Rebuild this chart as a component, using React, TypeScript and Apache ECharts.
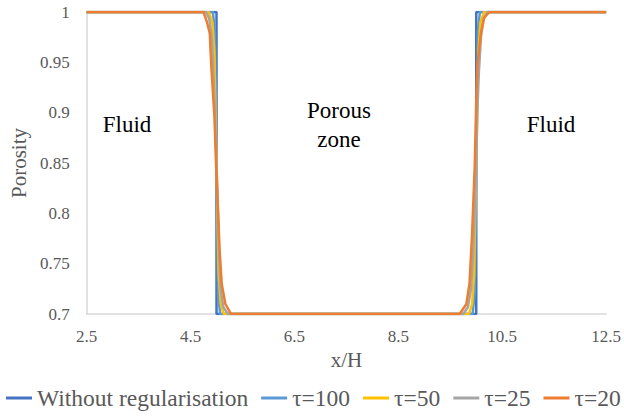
import React, { useEffect, useRef } from "react";
import * as echarts from "echarts";

const seriesNames = ["Without regularisation", "τ=100", "τ=50", "τ=25", "τ=20"];
const seriesColors = ["#4472C4", "#5B9BD5", "#FFC000", "#A5A5A5", "#ED7D31"];

const noRegX = [2.5, 5, 5, 10, 10, 12.5];
const noRegY = [1, 1, 0.7, 0.7, 1, 1];

const tau100X = [2.5, 4.93, 4.97, 4.99, 5.0, 5.01, 5.03, 5.07, 9.93, 9.97, 9.99, 10.0, 10.01, 10.03, 10.07, 12.5];
const tau100Y = [1, 1, 0.98, 0.9, 0.85, 0.8, 0.72, 0.7, 0.7, 0.72, 0.8, 0.85, 0.9, 0.98, 1, 1];

const tau50X = [2.5, 4.85, 4.92, 4.96, 4.98, 5.0, 5.02, 5.04, 5.08, 5.14, 9.86, 9.92, 9.96, 9.98, 10.0, 10.02, 10.04, 10.08, 10.15, 12.5];
const tau50Y = [1, 1, 0.99, 0.96, 0.9, 0.85, 0.8, 0.74, 0.71, 0.7, 0.7, 0.71, 0.74, 0.8, 0.85, 0.9, 0.96, 0.99, 1, 1];

const tau25X = [2.5, 4.8, 4.86, 4.91, 4.94, 4.97, 5.0, 5.03, 5.05, 5.08, 5.13, 5.22, 9.75, 9.84, 9.9, 9.94, 9.97, 10.0, 10.02, 10.05, 10.09, 10.14, 10.21, 12.5];
const tau25Y = [1, 1, 0.993, 0.975, 0.94, 0.9, 0.85, 0.8, 0.76, 0.725, 0.707, 0.7, 0.7, 0.707, 0.725, 0.76, 0.8, 0.85, 0.9, 0.94, 0.975, 0.993, 1, 1];

const tau20X = [2.5, 4.75, 4.81, 4.87, 4.9, 4.96, 4.99, 5.02, 5.06, 5.1, 5.17, 5.28, 9.68, 9.81, 9.87, 9.92, 9.97, 10.0, 10.02, 10.09, 10.15, 10.25, 12.5];
const tau20Y = [1, 1, 0.991, 0.979, 0.946, 0.896, 0.85, 0.813, 0.763, 0.73, 0.71, 0.7, 0.7, 0.71, 0.73, 0.78, 0.846, 0.912, 0.946, 0.979, 0.994, 1, 1];

const seriesX = [noRegX, tau100X, tau50X, tau25X, tau20X];
const seriesY = [noRegY, tau100Y, tau50Y, tau25Y, tau20Y];

const xTickLabels = [2.5, 4.5, 6.5, 8.5, 10.5, 12.5];

const SERIF = "Liberation Serif, Times New Roman, serif";
const WARM_SIZES = [17, 21, 23, 23.5];

export default function App() {
  const ref = useRef<HTMLDivElement>(null);

  useEffect(() => {
    if (!ref.current) return;
    const chart = echarts.init(ref.current, null, { renderer: "svg" });

    const series = seriesNames.map((name, i) => ({
      name,
      type: "line",
      data: seriesX[i].map((x, j) => [x, seriesY[i][j]]),
      showSymbol: false,
      symbol: "none",
      lineStyle: { color: seriesColors[i], width: 2.5 },
      itemStyle: { color: seriesColors[i] },
      z: 2 + i,
    }));

    const annoStyle = (text: string) => ({
      text,
      fill: "#000",
      fontFamily: SERIF,
      fontSize: 23,
      textAlign: "center",
      textVerticalAlign: "middle",
    });

    chart.setOption({
      animation: false,
      backgroundColor: "#ffffff",
      textStyle: { fontFamily: SERIF },
      grid: { left: 81, right: 15, top: 12, bottom: 103 },
      xAxis: {
        type: "value",
        min: 2.5,
        max: 12.5,
        interval: 0.5,
        name: "x/H",
        nameLocation: "middle",
        nameGap: 18,
        nameTextStyle: { fontFamily: SERIF, fontSize: 21, color: "#595959" },
        axisLine: { show: true, lineStyle: { color: "#D9D9D9", width: 1.5 } },
        axisTick: { show: false },
        splitLine: { show: false },
        axisLabel: {
          fontFamily: SERIF,
          fontSize: 17,
          color: "#595959",
          margin: 14,
          showMinLabel: true,
          showMaxLabel: true,
          formatter: (v: number) => {
            const hit = xTickLabels.find((t) => Math.abs(t - v) < 1e-6);
            return hit !== undefined ? String(hit) : "";
          },
        },
      },
      yAxis: {
        type: "value",
        min: 0.7,
        max: 1,
        interval: 0.05,
        name: "Porosity",
        nameLocation: "middle",
        nameGap: 52,
        nameTextStyle: { fontFamily: SERIF, fontSize: 21, color: "#595959" },
        axisLine: { show: true, lineStyle: { color: "#D9D9D9", width: 1.5 } },
        axisTick: { show: false },
        splitLine: { show: false },
        axisLabel: {
          fontFamily: SERIF,
          fontSize: 17,
          color: "#595959",
          margin: 17,
        },
      },
      legend: {
        data: seriesNames,
        left: 6,
        top: 386,
        width: 1000,
        padding: 0,
        itemGap: 13,
        itemWidth: 26,
        itemHeight: 3,
        icon: "rect",
        textStyle: { fontFamily: SERIF, fontSize: 23.5, color: "#595959" },
      },
      graphic: [
        { type: "text", x: 127, y: 124, style: annoStyle("Fluid") },
        { type: "text", x: 339, y: 110, style: annoStyle("Porous") },
        { type: "text", x: 339, y: 139, style: annoStyle("zone") },
        { type: "text", x: 551, y: 124, style: annoStyle("Fluid") },
      ],
      series,
    });

    return () => chart.dispose();
  }, []);

  return (
    <>
      <div
        aria-hidden="true"
        style={{ position: "absolute", left: 0, top: 0, visibility: "hidden", zIndex: -1, whiteSpace: "nowrap" }}
      >
        {WARM_SIZES.map((s) => (
          <span key={s} style={{ fontFamily: SERIF, fontSize: s }}>
            Fluid Porous zone 0.95 12.5 Without regularisation τ=100
          </span>
        ))}
      </div>
      <div ref={ref} style={{ width: 624, height: 417, position: "absolute", left: 0, top: 0 }} />
    </>
  );
}
